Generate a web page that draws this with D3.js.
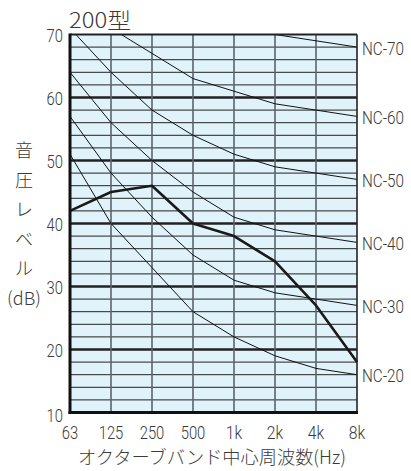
<!DOCTYPE html>
<html>
<head>
<meta charset="utf-8">
<script src="https://cdn.jsdelivr.net/npm/d3@7"></script>
<style>
  body { margin: 0; background: #fff; }
  text { fill: #3a3a3a; }
</style>
</head>
<body>
<svg width="411" height="471" id="mainsvg"></svg>
<script>
    // octave band centres and NC reference curves
    const bands = ['63', '125', '250', '500', '1k', '2k', '4k', '8k'];
    const nc70 = [83, 79, 75, 72, 71, 70, 69, 68];
    const nc60 = [77, 71, 67, 63, 61, 59, 58, 57];
    const nc50 = [71, 64, 58, 54, 51, 49, 48, 47];
    const nc40 = [64, 56, 50, 45, 41, 39, 38, 37];
    const nc30 = [57, 48, 41, 35, 31, 29, 28, 27];
    const nc20 = [51, 40, 33, 26, 22, 19, 17, 16];
    const ncNames = ['NC-70', 'NC-60', 'NC-50', 'NC-40', 'NC-30', 'NC-20'];
    // measured level of the 200 type
    const level200 = [42, 45, 46, 40, 38, 34, 27, 18];
    const yTicks = [10, 20, 30, 40, 50, 60, 70];
    const yLabel = ['音', '圧', 'レ', 'ベ', 'ル', '(dB)'];

    const numFont = 'Roboto, "DejaVu Sans", sans-serif';
    const jpFont = '"Noto Sans CJK JP", sans-serif';
    const charW = 8.2;   // width of one narrow digit

    const svg = d3.select('#mainsvg');
    const pl = 70, pr = 357, pt = 34.5, pb = 412.5;

    const x = d3.scalePoint().domain(bands).range([pl, pr]);
    const y = d3.scaleLinear().domain([10, 70]).range([pb, pt]);

    svg.append('defs').append('clipPath').attr('id', 'plotclip')
        .append('rect')
        .attr('x', pl).attr('y', pt)
        .attr('width', pr - pl).attr('height', pb - pt);

    svg.append('rect')
        .attr('x', pl).attr('y', pt)
        .attr('width', pr - pl).attr('height', pb - pt)
        .style('fill', '#e1f3fa');

    // horizontal grid every 2 dB
    svg.append('g').selectAll('line')
        .data(d3.range(12, 70, 2))
        .join('line')
        .attr('x1', pl).attr('x2', pr)
        .attr('y1', d => y(d)).attr('y2', d => y(d))
        .style('stroke', '#222')
        .style('stroke-width', d => d % 10 === 0 ? 2.6 : 1);

    // vertical grid
    svg.append('g').selectAll('line')
        .data(bands.slice(1, -1))
        .join('line')
        .attr('x1', d => x(d)).attr('x2', d => x(d))
        .attr('y1', pt).attr('y2', pb)
        .style('stroke', '#5b646c')
        .style('stroke-width', 1.6);

    // NC curves
    const line = d3.line().x((d, i) => x(bands[i])).y(d => y(d));
    const ncCurves = [nc70, nc60, nc50, nc40, nc30, nc20];
    svg.append('g').attr('clip-path', 'url(#plotclip)')
        .selectAll('path')
        .data(ncCurves)
        .join('path')
        .attr('d', line)
        .style('fill', 'none')
        .style('stroke', '#111')
        .style('stroke-width', 1);

    // measured curve
    svg.append('path')
        .datum(level200)
        .attr('d', line)
        .style('fill', 'none')
        .style('stroke', '#1a1a1a')
        .style('stroke-width', 2.6)
        .style('stroke-linejoin', 'round');

    // frame
    svg.append('line').attr('x1', pl).attr('x2', pr).attr('y1', pt).attr('y2', pt)
        .style('stroke', '#222').style('stroke-width', 2);
    svg.append('line').attr('x1', pr).attr('x2', pr).attr('y1', pt).attr('y2', pb)
        .style('stroke', '#222').style('stroke-width', 1.6);
    svg.append('line').attr('x1', pl).attr('x2', pl).attr('y1', pt - 1).attr('y2', pb + 1.5)
        .style('stroke', '#111').style('stroke-width', 3);
    svg.append('line').attr('x1', pl - 1.5).attr('x2', pr + 1).attr('y1', pb).attr('y2', pb)
        .style('stroke', '#111').style('stroke-width', 3);

    // narrow light number labels, squeezed to a fixed width
    function numText(sel, size) {
        return sel.attr('font-family', numFont)
            .attr('font-weight', 300)
            .attr('font-size', size)
            .attr('lengthAdjust', 'spacingAndGlyphs');
    }

    // y tick labels
    svg.append('g').selectAll('text')
        .data(yTicks)
        .join('text')
        .call(numText, 18.5)
        .attr('x', 63)
        .attr('y', d => d === 10 ? y(d) + 9.5 : y(d) + 7)
        .attr('text-anchor', 'end')
        .attr('textLength', d => String(d).length * charW)
        .text(d => d);

    // x tick labels
    svg.append('g').selectAll('text')
        .data(bands)
        .join('text')
        .call(numText, 18.5)
        .attr('x', d => x(d))
        .attr('y', 439)
        .attr('text-anchor', 'middle')
        .attr('textLength', d => d.length * charW)
        .text(d => d);

    // NC labels at the right end of each curve
    svg.append('g').selectAll('text')
        .data(ncCurves)
        .join('text')
        .call(numText, 18)
        .attr('x', 362)
        .attr('y', d => y(d[d.length - 1]) + 7.5)
        .attr('textLength', 42)
        .text((d, i) => ncNames[i]);

    // title
    svg.append('text')
        .attr('x', 69).attr('y', 28)
        .attr('font-family', jpFont)
        .attr('font-weight', 300)
        .attr('font-size', 21)
        .attr('textLength', 62)
        .attr('lengthAdjust', 'spacingAndGlyphs')
        .text('200型');

    // y axis title, stacked vertically
    svg.append('g').selectAll('text')
        .data(yLabel)
        .join('text')
        .attr('x', 24)
        .attr('y', (d, i) => 157 + i * 29.5)
        .attr('text-anchor', 'middle')
        .attr('font-family', jpFont)
        .attr('font-weight', 300)
        .attr('font-size', 18)
        .text(d => d);

    // x axis title
    svg.append('text')
        .attr('x', 212).attr('y', 464)
        .attr('text-anchor', 'middle')
        .attr('font-family', jpFont)
        .attr('font-weight', 300)
        .attr('font-size', 18.5)
        .attr('textLength', 268)
        .attr('lengthAdjust', 'spacingAndGlyphs')
        .text('オクターブバンド中心周波数(Hz)');
</script>
</body>
</html>
